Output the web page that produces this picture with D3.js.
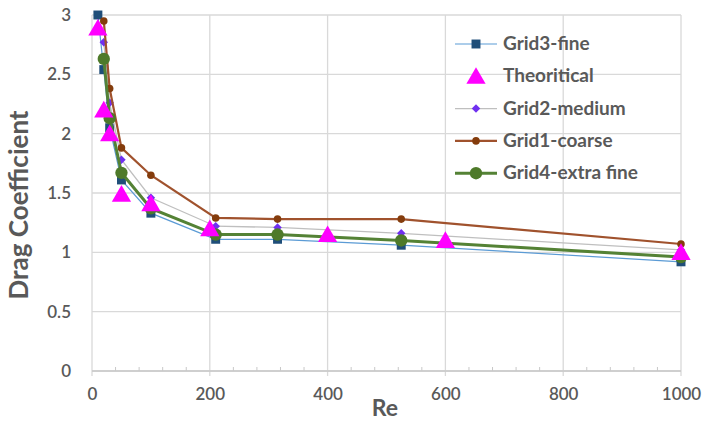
<!DOCTYPE html>
<html><head><meta charset="utf-8">
<script src="https://cdn.jsdelivr.net/npm/d3@7"></script>
<style>body{margin:0;background:#fff}svg{display:block}</style>
</head><body>
<script>
const xTicks = [0, 200, 400, 600, 800, 1000];
const yTicks = [0, 0.5, 1, 1.5, 2, 2.5, 3];
const seriesNames = ["Grid3-fine", "Theoritical", "Grid2-medium", "Grid1-coarse", "Grid4-extra fine"];

const reFine = [10, 20, 30, 50, 100, 210, 315, 525, 1000];
const cdFine = [3.0, 2.54, 2.05, 1.61, 1.33, 1.11, 1.11, 1.06, 0.92];

const reTheory = [10, 20, 30, 50, 100, 200, 400, 600, 1000];
const cdTheory = [2.89, 2.2, 2.0, 1.49, 1.41, 1.2, 1.15, 1.1, 1.0];

const reGrid = [20, 30, 50, 100, 210, 315, 525, 1000];
const cdMedium = [2.77, 2.26, 1.78, 1.46, 1.22, 1.21, 1.16, 1.02];
const cdCoarse = [2.95, 2.38, 1.88, 1.65, 1.29, 1.28, 1.28, 1.07];
const cdExtra = [2.63, 2.13, 1.67, 1.37, 1.15, 1.15, 1.10, 0.96];

const W = 705, H = 423;
const m = {left: 92, right: 705 - 681, top: 15, bottom: 423 - 371};
const svg = d3.select("body").append("svg").attr("width", W).attr("height", H);
const x = d3.scaleLinear().domain([0, 1000]).range([m.left, W - m.right]);
const y = d3.scaleLinear().domain([0, 3]).range([H - m.bottom, m.top]);
const font = "Lato, 'Open Sans', sans-serif";
const gridC = "#d9d9d9";

// gridlines
svg.append("g").selectAll("line").data(yTicks).join("line")
  .attr("x1", x(0)).attr("x2", x(1000)).attr("y1", d => y(d)).attr("y2", d => y(d))
  .attr("stroke", gridC).attr("stroke-width", 1.3);
svg.append("g").selectAll("line").data(xTicks).join("line")
  .attr("x1", d => x(d)).attr("x2", d => x(d)).attr("y1", y(3)).attr("y2", y(0) + 5)
  .attr("stroke", gridC).attr("stroke-width", 1.3);
// minor ticks on x axis
const minor = d3.range(0, 1001, 40).filter(v => v % 200 !== 0);
svg.append("g").selectAll("line").data(minor).join("line")
  .attr("x1", d => x(d)).attr("x2", d => x(d)).attr("y1", y(0) - 4).attr("y2", y(0))
  .attr("stroke", "#c8c8c8").attr("stroke-width", 1);
svg.append("line").attr("x1", x(0)).attr("x2", x(1000)).attr("y1", y(0)).attr("y2", y(0))
  .attr("stroke", "#c8c8c8").attr("stroke-width", 1.3);

// tick labels via axes
const yAxis = svg.append("g").attr("transform", `translate(${x(0) - 18},0)`)
  .call(d3.axisLeft(y).tickValues(yTicks).tickSize(0).tickFormat(d3.format("~g")));
const xAxis = svg.append("g").attr("transform", `translate(0,${y(0) + 14})`)
  .call(d3.axisBottom(x).tickValues(xTicks).tickSize(0).tickFormat(d3.format("d")));
[yAxis, xAxis].forEach(g => {
  g.select(".domain").remove();
  g.selectAll("text").attr("font-family", font).attr("font-size", 17).attr("fill", "#595959").attr("font-weight", 600);
});

// axis titles
svg.append("text").attr("x", 385).attr("y", 416).attr("text-anchor", "middle")
  .attr("font-family", font).attr("font-weight", 700).attr("font-size", 23).attr("fill", "#595959").text("Re");
svg.append("text").attr("transform", `translate(28,${(y(0) + y(3)) / 2 + 12}) rotate(-90)`)
  .attr("text-anchor", "middle").attr("font-family", font).attr("font-weight", 700)
  .attr("font-size", 26).attr("fill", "#595959").text("Drag Coefficient");

const line = d3.line().x(d => x(d[0])).y(d => y(d[1]));
const zip = (a, b) => a.map((v, i) => [v, b[i]]);

const styles = {
  "Grid3-fine": {data: zip(reFine, cdFine), stroke: "#5b9bd5", sw: 1.2, sym: d3.symbolSquare, size: 80, fill: "#1f4e79", rot: 0},
  "Theoritical": {data: zip(reTheory, cdTheory), stroke: null, sym: d3.symbolTriangle, size: 160, fill: "#ff00ff", rot: 0},
  "Grid2-medium": {data: zip(reGrid, cdMedium), stroke: "#bfbfbf", sw: 1.3, sym: d3.symbolSquare, size: 36, fill: "#7030f0", rot: 45},
  "Grid1-coarse": {data: zip(reGrid, cdCoarse), stroke: "#a0522d", sw: 2.2, sym: d3.symbolCircle, size: 45, fill: "#843c0c", rot: 0},
  "Grid4-extra fine": {data: zip(reGrid, cdExtra), stroke: "#548235", sw: 3, sym: d3.symbolCircle, size: 120, fill: "#4e7a2a", rot: 0}
};
const drawOrder = ["Grid3-fine", "Grid2-medium", "Grid1-coarse", "Grid4-extra fine", "Theoritical"];
drawOrder.forEach(name => {
  const s = styles[name];
  if (s.stroke) svg.append("path").datum(s.data).attr("d", line).attr("fill", "none")
    .attr("stroke", s.stroke).attr("stroke-width", s.sw);
  svg.append("g").selectAll("path").data(s.data).join("path")
    .attr("transform", d => `translate(${x(d[0])},${y(d[1]) + (name === "Theoritical" ? 2 : 0)}) rotate(${s.rot})`)
    .attr("d", d3.symbol(s.sym, s.size)).attr("fill", s.fill);
});

// legend
const lg = svg.append("g");
seriesNames.forEach((name, i) => {
  const s = styles[name];
  const ly = 44 + i * 32.3;
  if (s.stroke) lg.append("line").attr("x1", 455).attr("x2", 497).attr("y1", ly).attr("y2", ly)
    .attr("stroke", s.stroke).attr("stroke-width", s.sw);
  lg.append("path").attr("transform", `translate(476,${ly + (name === "Theoritical" ? 2 : 0)}) rotate(${s.rot})`)
    .attr("d", d3.symbol(s.sym, s.size)).attr("fill", s.fill);
  lg.append("text").attr("x", 503).attr("y", ly + 6).attr("font-family", font)
    .attr("font-weight", 700).attr("font-size", 19).attr("fill", "#595959").text(name);
});
</script>
</body></html>
